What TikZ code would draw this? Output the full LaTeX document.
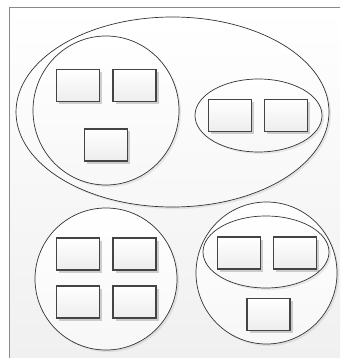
\documentclass[tikz,border=0pt]{standalone}
\usetikzlibrary{shapes.geometric,shadows}
\definecolor{boxline}{HTML}{444444}
\definecolor{ellline}{HTML}{333333}
\definecolor{frameline}{HTML}{8A8A8A}
\tikzset{
  itembox/.style={rectangle, draw=boxline, line width=1.6pt, minimum width=43pt, minimum height=32pt, inner sep=0pt,
    top color=white, bottom color=gray!14,
    drop shadow={shadow xshift=2.5pt, shadow yshift=-2.5pt, fill=black, opacity=0.18}},
  group/.style={ellipse, draw=ellline, line width=0.7pt, inner sep=0pt,
    top color=white, bottom color=gray!6,
    drop shadow={shadow xshift=2pt, shadow yshift=-2pt, fill=black, opacity=0.08}},
}
\begin{document}
\begin{tikzpicture}[x=1pt,y=-1pt]
\useasboundingbox (0,0) rectangle (340,358);
\clip (0,0) rectangle (340,358);
\node[draw=none, fill=white, inner sep=0pt, minimum width=340pt, minimum height=358pt] (page) at (170,179) {};
\path[top color=white, bottom color=gray!12, draw=frameline, line width=0.9pt] (9,7) rectangle (346,366);
% groups
\node[group, minimum width=313pt, minimum height=190pt] (big) at (172.5,112) {};
\node[group, minimum width=146pt, minimum height=149pt] (lc) at (106,110.5) {};
\node[group, minimum width=127pt, minimum height=73pt] (se) at (258.5,115.5) {};
\node[group, minimum width=142pt, minimum height=142pt] (blc) at (106,279) {};
\node[group, minimum width=141pt, minimum height=142pt] (brc) at (266.5,273) {};
\node[group, minimum width=126pt, minimum height=72pt] (bre) at (266,252) {};
% boxes
\node[itembox] (a1) at (78,85.5) {};
\node[itembox] (a2) at (134.5,85.5) {};
\node[itembox] (a3) at (106,145) {};
\node[itembox] (s1) at (230,115.5) {};
\node[itembox] (s2) at (286,115.5) {};
\node[itembox] (c1) at (78,254) {};
\node[itembox] (c2) at (134.5,254) {};
\node[itembox] (c3) at (78,302) {};
\node[itembox] (c4) at (134.5,302) {};
\node[itembox] (d1) at (239,253) {};
\node[itembox] (d2) at (295,253) {};
\node[itembox] (d3) at (268.5,314.5) {};
\end{tikzpicture}
\end{document}
